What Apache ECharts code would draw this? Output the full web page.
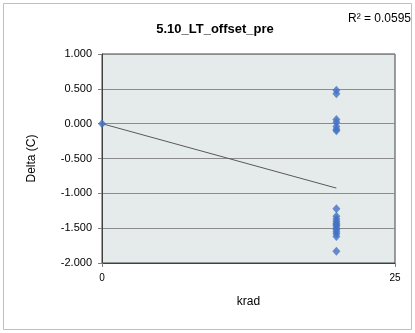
<!DOCTYPE html>
<html>
<head>
<meta charset="utf-8">
<script src="https://cdn.jsdelivr.net/npm/echarts@6/dist/echarts.min.js"></script>
<style>
html,body{margin:0;padding:0;background:#fff;}
#c{width:415px;height:333px;}
</style>
</head>
<body>
<div id="c"></div>
<script>
var titleText = "5.10_LT_offset_pre";
var r2Text = "R\u00b2 = 0.0595";
var xName = "krad";
var yName = "Delta (C)";
var xValues = [0, 20, 20, 20, 20, 20, 20, 20, 20, 20, 20, 20, 20, 20, 20, 20, 20, 20, 20, 20, 20];
var yValues = [0.000, 0.478, 0.430, 0.060, 0.020, -0.040, -0.080, -0.100, -1.220, -1.330, -1.370, -1.400, -1.430, -1.450, -1.470, -1.500, -1.520, -1.550, -1.580, -1.620, -1.830];
var xTicks = [0, 25];
var yTicks = [-2.0, -1.5, -1.0, -0.5, 0.0, 0.5, 1.0];

// linear regression trendline from data
var n = xValues.length, sx = 0, sy = 0, sxx = 0, sxy = 0;
for (var i = 0; i < n; i++) { sx += xValues[i]; sy += yValues[i]; sxx += xValues[i]*xValues[i]; sxy += xValues[i]*yValues[i]; }
var slope = (n*sxy - sx*sy) / (n*sxx - sx*sx);
var intercept = (sy - slope*sx) / n;
var xMin = Math.min.apply(null, xValues), xMax = Math.max.apply(null, xValues);
var trend = [[xMin, intercept + slope*xMin], [xMax, intercept + slope*xMax]];

var pts = xValues.map(function(x, i){ return [x, yValues[i]]; });

var chart = echarts.init(document.getElementById('c'), null, {renderer:'canvas'});
var font = "'Liberation Sans', 'DejaVu Sans', sans-serif";
chart.setOption({
  animation: false,
  backgroundColor: '#ffffff',
  graphic: [
    {type:'rect', shape:{x:3.5, y:3.5, width:408, height:326}, style:{fill:'none', stroke:'#BFBFBF', lineWidth:1}, silent:true},
    {type:'text', right: 4, top: 13, style:{text: r2Text, fontSize: 12, fontFamily: font, fill:'#000'}}
  ],
  title: {
    text: titleText, left: 210, top: 18, textAlign: 'center',
    textStyle: {fontSize: 13, fontWeight: 'bold', fontFamily: font, color:'#000'}
  },
  grid: {left: 102, right: 20, top: 54, bottom: 70, show: true, backgroundColor: '#E5EBEB', borderColor: '#404040', borderWidth: 1},
  xAxis: {
    type: 'value', min: xTicks[0], max: xTicks[xTicks.length-1], interval: 25,
    name: xName, nameLocation: 'middle', nameGap: 33,
    nameTextStyle: {fontSize: 12, fontFamily: font, color:'#000'},
    axisLine: {show: true, onZero: false, lineStyle:{color:'#404040', width:1}},
    axisTick: {show: true, length: 4, lineStyle:{color:'#808080'}},
    axisLabel: {fontSize: 10, fontFamily: font, color:'#000', margin: 10},
    splitLine: {show: false}
  },
  yAxis: {
    type: 'value', min: yTicks[0], max: yTicks[yTicks.length-1], interval: 0.5,
    name: yName, nameLocation: 'middle', nameGap: 64, nameRotate: 90,
    nameTextStyle: {fontSize: 12, fontFamily: font, color:'#000'},
    axisLine: {show: true, onZero: false, lineStyle:{color:'#404040', width:1}},
    axisTick: {show: true, length: 4, lineStyle:{color:'#808080'}},
    axisLabel: {fontSize: 11, fontFamily: font, color:'#000', margin: 10, formatter: function(v){ return v.toFixed(3); }},
    splitLine: {show: true, lineStyle:{color:'#8C8C8C', width:1}}
  },
  series: [
    {type:'line', data: trend, symbol:'none', lineStyle:{color:'#595959', width:1}, z: 2},
    {type:'scatter', data: pts, symbol:'diamond', symbolSize:[8,9], itemStyle:{color:'#4472C4'}, z: 3}
  ]
});
</script>
</body>
</html>
